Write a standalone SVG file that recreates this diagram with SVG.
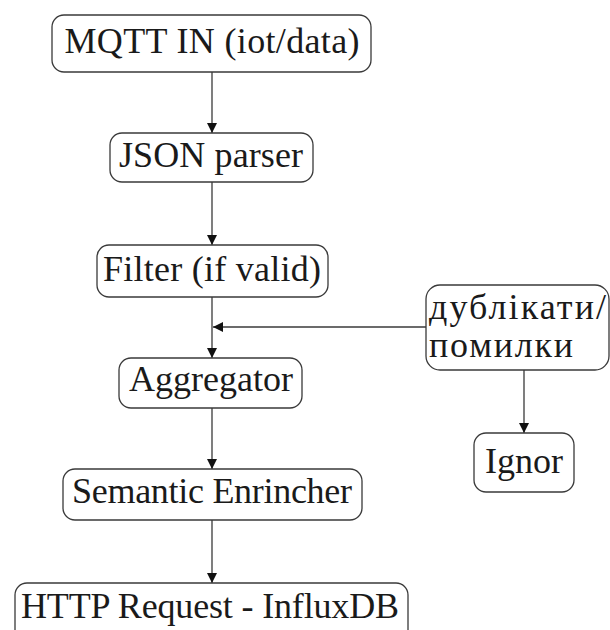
<svg xmlns="http://www.w3.org/2000/svg" width="610" height="630" viewBox="0 0 610 630">
  <style>
    .box { fill: #ffffff; stroke: #3a3a3a; stroke-width: 1.3; }
    .lbl { font-family: "Liberation Serif", "Times New Roman", serif; font-size: 36px; fill: #1a1a1a; }
    .mid { text-anchor: middle; }
    .edge { fill: none; stroke: #3a3a3a; stroke-width: 1.3; }
  </style>
  <defs>
    <marker id="arrow" viewBox="0 0 10 10" refX="10" refY="5" markerWidth="10" markerHeight="10" markerUnits="userSpaceOnUse" orient="auto">
      <path d="M0,0 L10,5 L0,10 Z" fill="#111111"/>
    </marker>
  </defs>
  <rect width="610" height="630" fill="#ffffff"/>

  <!-- flow links -->
  <g id="connectors">
    <line class="edge" x1="212" y1="72" x2="212" y2="133" marker-end="url(#arrow)"/>
    <line class="edge" x1="212" y1="182" x2="212" y2="245" marker-end="url(#arrow)"/>
    <line class="edge" x1="212" y1="297" x2="212" y2="358" marker-end="url(#arrow)"/>
    <line class="edge" x1="426" y1="327" x2="213" y2="327" marker-end="url(#arrow)"/>
    <line class="edge" x1="524" y1="370" x2="524" y2="433" marker-end="url(#arrow)"/>
    <line class="edge" x1="212" y1="408" x2="212" y2="469" marker-end="url(#arrow)"/>
    <line class="edge" x1="212" y1="520" x2="212" y2="583" marker-end="url(#arrow)"/>
  </g>

  <g id="mqtt-in">
    <rect class="box" x="52" y="15" width="319" height="57" rx="12"/>
    <text class="lbl mid" x="212" y="53" textLength="295">MQTT IN (iot/data)</text>
  </g>

  <g id="json-parser">
    <rect class="box" x="110" y="133" width="203" height="49" rx="12"/>
    <text class="lbl mid" x="211" y="167" textLength="184">JSON parser</text>
  </g>

  <g id="filter">
    <rect class="box" x="97" y="245" width="231" height="52" rx="12"/>
    <text class="lbl mid" x="212" y="281" textLength="218">Filter (if valid)</text>
  </g>

  <g id="aggregator">
    <rect class="box" x="119" y="358" width="183" height="50" rx="12"/>
    <text class="lbl mid" x="211" y="391">Aggregator</text>
  </g>

  <g id="duplicates-errors">
    <rect class="box" x="426" y="285" width="183" height="85" rx="14"/>
    <text class="lbl" x="429" y="319" textLength="177">дублікати/</text>
    <text class="lbl" x="429" y="357" textLength="144">помилки</text>
  </g>

  <g id="ignor">
    <rect class="box" x="474" y="433" width="100" height="59" rx="12"/>
    <text class="lbl mid" x="524" y="473">Ignor</text>
  </g>

  <g id="semantic-enricher">
    <rect class="box" x="63" y="469" width="299" height="51" rx="12"/>
    <text class="lbl mid" x="212" y="503" textLength="280">Semantic Enrincher</text>
  </g>

  <g id="http-request">
    <rect class="box" x="15" y="583" width="393" height="60" rx="12"/>
    <text class="lbl mid" x="210" y="618" textLength="378">HTTP Request - InfluxDB</text>
  </g>
</svg>
